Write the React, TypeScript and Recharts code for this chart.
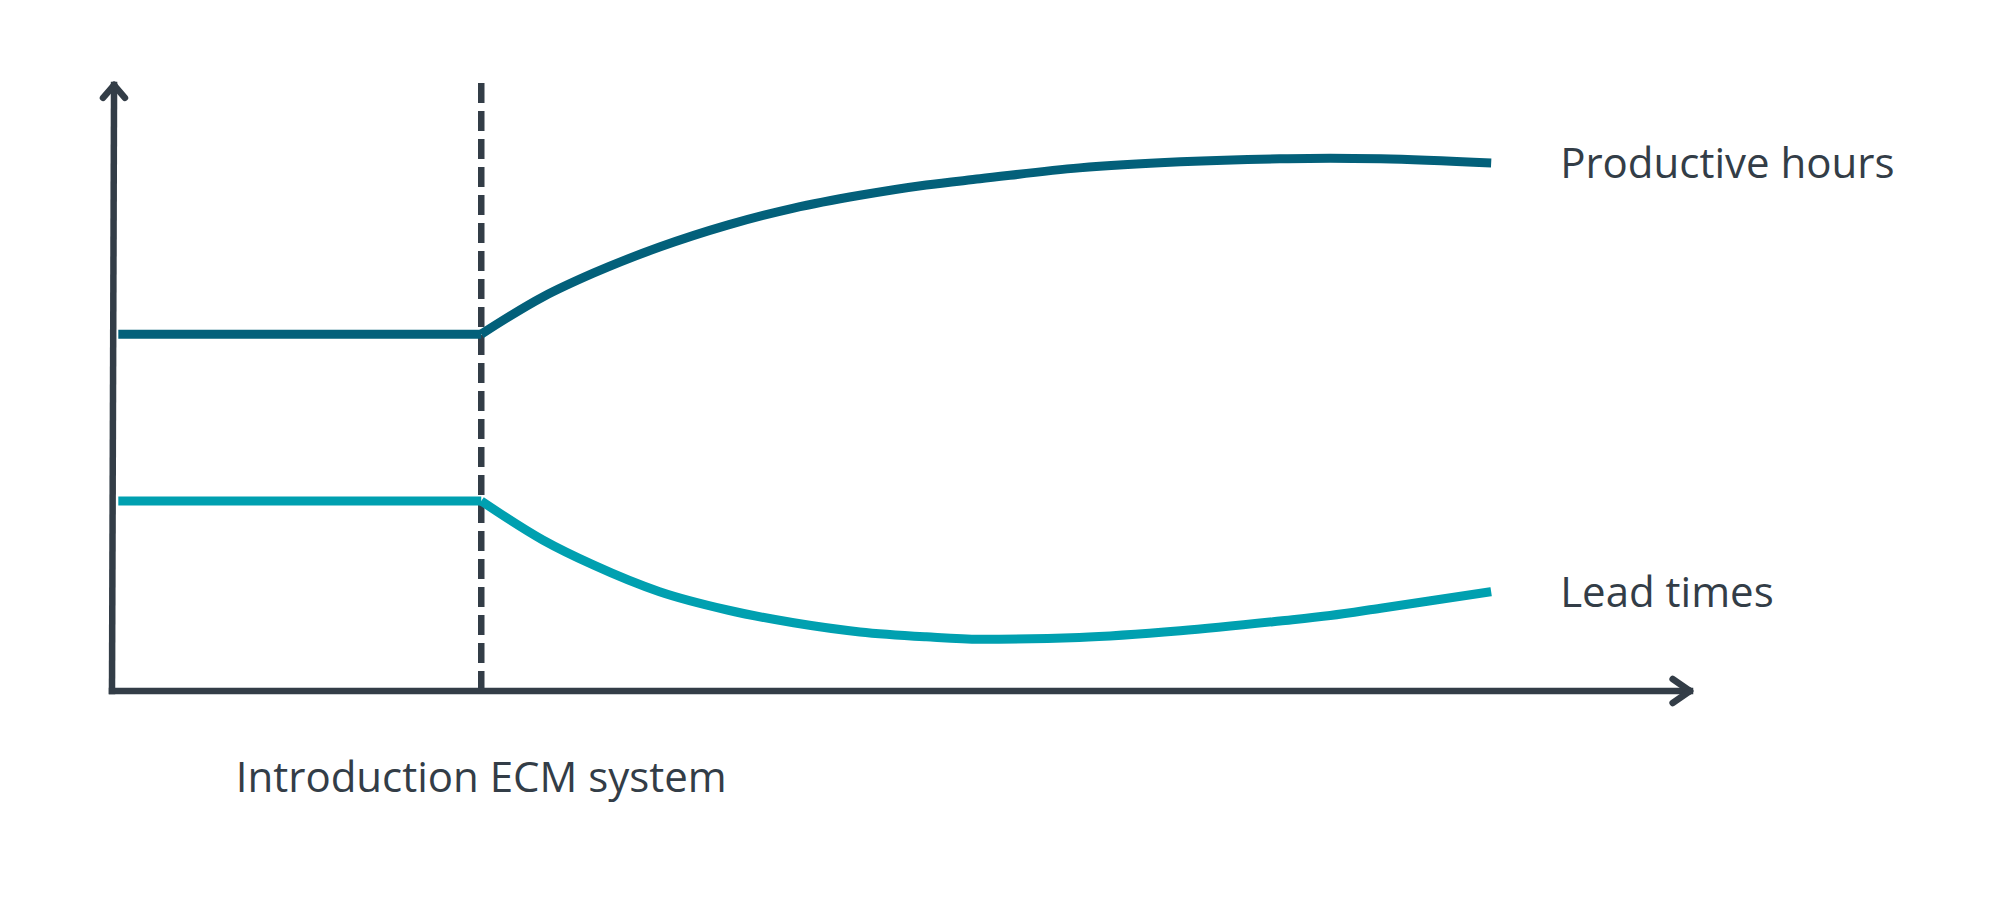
import React from 'react';
import { LineChart, Line, XAxis, YAxis, ReferenceLine } from 'recharts';

// ---- data (x: time units, y: relative level, both 0..100) ----
const timeSteps = [0.4, 23.4, 27.3, 30.5, 34.7, 39, 43.2, 47.4, 51.6, 55, 61.3, 67.7, 74, 77.2, 80.4, 87.4];
const introductionAt = 23.4;
const productiveHours = [58.6, 58.6, 64.7, 68.6, 72.9, 76.5, 79.3, 81.4, 83.1, 84.1, 85.9, 86.9, 87.4, 87.5, 87.4, 86.7];
const leadTimes = [31.2, 31.2, 24.8, 20.7, 16.3, 13.3, 11.2, 9.7, 8.9, 8.5, 8.8, 9.9, 11.5, 12.4, 13.6, 16.3];
const seriesLabels = ['Productive hours', 'Lead times'];
const eventLabel = 'Introduction ECM system';

// decorative axes with arrow heads (in data units)
const yAxisLine = [{ x: 0.13, y: 99.5 }, { x: 0, y: 0 }];
const xAxisLine = [{ x: 0, y: 0 }, { x: 100, y: 0 }];
const yArrowArms = [
  [{ x: -0.57, y: 97.4 }, { x: 0.13, y: 99.5 }],
  [{ x: 0.82, y: 97.4 }, { x: 0.13, y: 99.5 }],
];
const xArrowArms = [
  [{ x: 98.9, y: 1.97 }, { x: 100, y: 0 }],
  [{ x: 98.9, y: -1.97 }, { x: 100, y: 0 }],
];

const INK = '#333D47';
const PROD = '#03607A';
const LEAD = '#00A0B0';
const FONT = '"Open Sans", sans-serif';

const rows = timeSteps.map((t, i) => ({
  t,
  prodBefore: t <= introductionAt ? productiveHours[i] : null,
  prodAfter: t >= introductionAt ? productiveHours[i] : null,
  leadBefore: t <= introductionAt ? leadTimes[i] : null,
  leadAfter: t >= introductionAt ? leadTimes[i] : null,
}));

const endLabel = (text: string) => (props: any) => {
  const { x, y, index } = props;
  if (index !== rows.length - 1 || x == null || y == null) return null;
  return (
    <text x={x + 69} y={y + 15} fill={INK} fontFamily={FONT} fontSize={42}>
      {text}
    </text>
  );
};

const introLabel = (props: any) => {
  const vb = props.viewBox || {};
  return (
    <text
      x={vb.x}
      y={vb.y + vb.height + 101}
      textAnchor="middle"
      fill={INK}
      fontFamily={FONT}
      fontSize={42}
    >
      {eventLabel}
    </text>
  );
};

export default function App() {
  return (
    <div style={{ position: 'absolute', left: 0, top: 0, width: 2000, height: 900, background: '#fff' }}>
      <LineChart
        width={2000}
        height={900}
        data={rows}
        margin={{ top: 82, right: 310, bottom: 209, left: 112 }}
      >
        <XAxis type="number" dataKey="t" domain={[0, 100]} hide />
        <YAxis type="number" domain={[0, 100]} hide />

        <ReferenceLine
          x={introductionAt}
          stroke={INK}
          strokeWidth={6.5}
          strokeDasharray="20 8"
          ifOverflow="visible"
          label={introLabel}
        />

        <Line
          dataKey="prodBefore"
          type="linear"
          stroke={PROD}
          strokeWidth={9}
          dot={false}
          activeDot={false}
          isAnimationActive={false}
        />
        <Line
          dataKey="prodAfter"
          type="monotoneX"
          stroke={PROD}
          strokeWidth={9}
          dot={false}
          activeDot={false}
          isAnimationActive={false}
          label={endLabel(seriesLabels[0])}
        />
        <Line
          dataKey="leadBefore"
          type="linear"
          stroke={LEAD}
          strokeWidth={9}
          dot={false}
          activeDot={false}
          isAnimationActive={false}
        />
        <Line
          dataKey="leadAfter"
          type="monotoneX"
          stroke={LEAD}
          strokeWidth={9}
          dot={false}
          activeDot={false}
          isAnimationActive={false}
          label={endLabel(seriesLabels[1])}
        />

        <ReferenceLine segment={yAxisLine} stroke={INK} strokeWidth={6.5} strokeLinecap="square" ifOverflow="visible" />
        <ReferenceLine segment={xAxisLine} stroke={INK} strokeWidth={6.5} strokeLinecap="square" ifOverflow="visible" />
        {yArrowArms.map((seg, i) => (
          <ReferenceLine key={'ya' + i} segment={seg} stroke={INK} strokeWidth={6.5} strokeLinecap="round" ifOverflow="visible" />
        ))}
        {xArrowArms.map((seg, i) => (
          <ReferenceLine key={'xa' + i} segment={seg} stroke={INK} strokeWidth={6.5} strokeLinecap="round" ifOverflow="visible" />
        ))}
      </LineChart>
    </div>
  );
}
